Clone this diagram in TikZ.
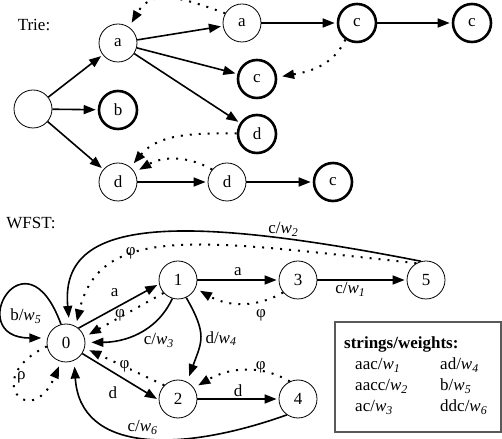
\documentclass[tikz,border=0pt]{standalone}
\usepackage{fontspec}
\setmainfont{Liberation Serif}
\usetikzlibrary{arrows.meta}
\newcommand{\wt}[1]{\textit{w}\textsubscript{\textit{#1}}}

\begin{document}
\begin{tikzpicture}[x=1pt,y=1pt,font=\fontsize{17}{20}\selectfont,
	>={Triangle[length=12pt,width=9pt]}]
	\tikzstyle{node_style} = [circle,draw=black,line width=0.8pt,minimum size=38pt,inner sep=0pt]
	\tikzstyle{final_style} = [node_style,line width=2.6pt]
	\tikzstyle{arc_style} = [draw=black,line width=1.6pt,->,shorten >=2pt]
	\tikzstyle{fail_style} = [draw=black,line width=2pt,dash pattern=on 2pt off 7pt,->,shorten >=5pt]
	\tikzstyle{label_style} = [inner sep=1.5pt]
	\useasboundingbox (0,0) rectangle (502,438);

	% trie
	\node (trie_title) at (34,413) {Trie:};
	\node[node_style] (root) at (33,329) {};
	\node[node_style] (ta) at (118,395) {a};
	\node[final_style] (tb) at (118,328) {b};
	\node[node_style] (td) at (118,256) {d};
	\node[node_style] (taa) at (242,415) {a};
	\node[final_style] (tac) at (257,359) {c};
	\node[final_style] (tad) at (257,304) {d};
	\node[node_style] (tdd) at (227,256) {d};
	\node[final_style] (taac) at (357,415) {c};
	\node[final_style] (taacc) at (472,415) {c};
	\node[final_style] (tddc) at (333,256) {c};
	\draw[arc_style] (root) -- (ta);
	\draw[arc_style] (root) -- (tb);
	\draw[arc_style] (root) -- (td);
	\draw[arc_style] (ta) -- (taa);
	\draw[arc_style] (ta) -- (tac);
	\draw[arc_style] (ta) -- (tad);
	\draw[arc_style] (taa) -- (taac);
	\draw[arc_style] (taac) -- (taacc);
	\draw[arc_style] (td) -- (tdd);
	\draw[arc_style] (tdd) -- (tddc);
	% failure links
	\draw[fail_style] (taa.150) to[out=160,in=60,looseness=1.2] (ta.55);
	\draw[fail_style] (taac.235) to[out=-115,in=10] (tac.5);
	\draw[fail_style] (tad.178) to[out=180,in=50] (td.50);
	\draw[fail_style] (tdd.140) to[out=150,in=30] (td.30);

	% wfst
	\node (wfst_title) at (31,215) {WFST:};
	\node[node_style] (s0) at (66,95) {0};
	\node[node_style] (s1) at (178,158) {1};
	\node[node_style] (s2) at (178,39) {2};
	\node[node_style] (s3) at (298,158) {3};
	\node[node_style] (s4) at (298,39) {4};
	\node[node_style] (s5) at (426,158) {5};
	\draw[arc_style] (s0.50) -- node[label_style,pos=0.45,above=9pt] {a} (s1.192);
	\draw[arc_style] (s1) -- node[label_style,above=2pt] {a} (s3);
	\draw[arc_style] (s3) -- node[label_style,pos=0.37,below] {c/\wt{1}} (s5);
	\draw[arc_style] (s0.-33) -- node[label_style,pos=0.4,below=12pt] {d} (s2.183);
	\draw[arc_style] (s2) -- node[label_style,above] {d} (s4);
	\draw[arc_style,shorten >=6pt] (s1.253) to[out=-115,in=0]
		node[label_style,pos=0.45,below right] {c/\wt{3}} (s0.2);
	\draw[arc_style,shorten >=6pt] (s1.295) to[out=-60,in=70,looseness=1.3]
		node[label_style,pos=0.5,right=3pt] {d/\wt{4}} (s2.62);
	\draw[arc_style,shorten >=6pt] (s5.105) .. controls (160,228) and (60,215) ..
		node[label_style,pos=0.2,above] {c/\wt{2}} (s0.80);
	\draw[arc_style,shorten >=6pt] (s4.235) .. controls (180,-15) and (80,-15) ..
		node[label_style,pos=0.5,above] {c/\wt{6}} (s0.-65);
	\draw[arc_style,shorten >=6pt] (s0.105) .. controls +(110:105) and +(-85,0) ..
		node[label_style,pos=0.7,right=2pt] {b/\wt{5}} (s0.165);
	% failure and rho transitions
	\draw[fail_style] (s1.222) -- node[label_style,pos=0.55,above=-6pt] {φ} (s0.18);
	\draw[fail_style] (s2.135) -- node[label_style,fill=white,inner sep=1pt] {φ} (s0.-15);
	\draw[fail_style] (s3.220) to[out=210,in=-30] node[label_style,pos=0.25,below=6pt] {φ} (s1.-25);
	\draw[fail_style] (s4.115) to[out=150,in=30] node[label_style,pos=0.3,above=-5pt] {φ} (s2.35);
	\draw[fail_style] (s5.120) .. controls (200,198) and (100,215) ..
		node[label_style,pos=0.65,above=-4pt] {φ} (s0.60);
	\draw[fail_style] (s0.190) .. controls +(-67,-32) and +(-30,-70) ..
		node[label_style,pos=0.3,right=0pt] {ρ} (s0.-105);

	% legend
	\node[draw=black!65,line width=1.2pt,minimum width=166pt,minimum height=110pt,inner sep=0pt] (legend) at (418,61) {};
	\node[anchor=base west,inner sep=0pt] (legend_text) at (344,89) {\renewcommand{\arraystretch}{1.05}%
		\begin{tabular}[t]{@{}p{96pt}@{}l@{}}
			\multicolumn{2}{@{}l}{\textbf{strings/weights:}}\\
			\hspace{11pt}aac/\wt{1} & ad/\wt{4}\\
			\hspace{11pt}aacc/\wt{2} & b/\wt{5}\\
			\hspace{11pt}ac/\wt{3} & ddc/\wt{6}
		\end{tabular}};
\end{tikzpicture}
\end{document}
